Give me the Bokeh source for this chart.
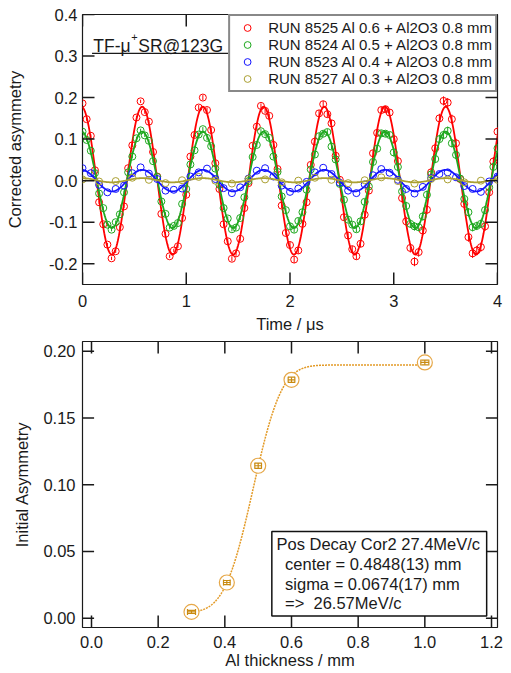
import math
import numpy as np
from bokeh.plotting import figure
from bokeh.models import (FixedTicker, Legend, LegendItem, Label,
                          BoxAnnotation, Whisker, TeeHead, ColumnDataSource, Range1d)
from bokeh.layouts import column
from bokeh.embed import file_html
from bokeh.resources import INLINE

# ---------------- data: top panel (TF-muSR time spectra) ----------------
t_bins = [0.00,0.04,0.08,0.12,0.16,0.20,0.24,0.28,0.32,0.36,0.40,0.44,0.48,0.52,0.56,0.60,
          0.64,0.68,0.72,0.76,0.80,0.84,0.88,0.92,0.96,1.00,1.04,1.08,1.12,1.16,1.20,1.24,
          1.28,1.32,1.36,1.40,1.44,1.48,1.52,1.56,1.60,1.64,1.68,1.72,1.76,1.80,1.84,1.88,
          1.92,1.96,2.00,2.04,2.08,2.12,2.16,2.20,2.24,2.28,2.32,2.36,2.40,2.44,2.48,2.52,
          2.56,2.60,2.64,2.68,2.72,2.76,2.80,2.84,2.88,2.92,2.96,3.00,3.04,3.08,3.12,3.16,
          3.20,3.24,3.28,3.32,3.36,3.40,3.44,3.48,3.52,3.56,3.60,3.64,3.68,3.72,3.76,3.80,
          3.84,3.88,3.92,3.96,4.00]
red_asym = [0.186,0.148,0.108,0.025,-0.052,-0.105,-0.154,-0.187,-0.170,-0.112,
            -0.062,0.030,0.085,0.152,0.191,0.165,0.142,0.069,0.010,-0.080,
            -0.128,-0.182,-0.168,-0.158,-0.090,-0.034,0.058,0.110,0.176,0.200,
            0.170,0.122,0.042,-0.020,-0.105,-0.146,-0.188,-0.175,-0.140,-0.066,
            -0.006,0.084,0.130,0.180,0.168,0.156,0.086,0.028,-0.060,-0.126,
            -0.155,-0.190,-0.168,-0.104,-0.052,0.038,0.094,0.162,0.184,0.160,
            0.138,0.060,0.002,-0.088,-0.132,-0.165,-0.182,-0.152,-0.082,-0.024,
            0.066,0.115,0.170,0.172,0.164,0.100,0.047,-0.042,-0.098,-0.162,
            -0.195,-0.172,-0.120,-0.070,0.020,0.078,0.150,0.192,0.188,0.148,
            0.090,0.004,-0.056,-0.136,-0.175,-0.168,-0.160,-0.110,-0.028,0.046,
            0.118]
green_asym = [0.118,0.098,0.072,0.018,-0.031,-0.066,-0.106,-0.118,-0.100,-0.081,
              -0.028,0.020,0.058,0.102,0.121,0.109,0.096,0.047,0.009,-0.050,
              -0.080,-0.113,-0.109,-0.102,-0.056,-0.020,0.039,0.073,0.111,0.124,
              0.103,0.083,0.029,-0.010,-0.066,-0.091,-0.117,-0.113,-0.090,-0.040,
              -0.001,0.057,0.086,0.119,0.112,0.103,0.058,0.021,-0.038,-0.071,
              -0.110,-0.118,-0.097,-0.076,-0.022,0.027,0.063,0.107,0.113,0.117,
              0.082,0.051,-0.008,-0.046,-0.094,-0.106,-0.117,-0.098,-0.051,-0.014,
              0.045,0.077,0.114,0.113,0.110,0.068,0.033,-0.026,-0.061,-0.104,
              -0.110,-0.112,-0.086,-0.034,0.015,0.052,0.100,0.110,0.120,0.090,
              0.062,0.005,-0.044,-0.076,-0.112,-0.109,-0.104,-0.071,-0.016,0.033,
              0.078]
t_blue = [0.00,0.08,0.16,0.24,0.32,0.40,0.48,0.56,0.64,0.72,0.80,0.88,0.96,1.04,1.12,1.20,
          1.28,1.36,1.44,1.52,1.60,1.68,1.76,1.84,1.92,2.00,2.08,2.16,2.24,2.32,2.40,2.48,
          2.56,2.64,2.72,2.80,2.88,2.96,3.04,3.12,3.20,3.28,3.36,3.44,3.52,3.60,3.68,3.76,
          3.84,3.92,4.00]
blue_asym = [0.030,0.018,-0.010,-0.028,-0.020,-0.012,0.018,0.032,0.017,0.004,
             -0.024,-0.022,-0.019,0.010,0.020,0.029,0.004,-0.018,-0.030,-0.016,
             0.005,0.024,0.030,0.010,-0.012,-0.027,-0.019,-0.003,0.020,0.031,
             0.016,-0.005,-0.024,-0.030,-0.009,0.013,0.028,0.019,0.002,-0.020,
             -0.031,-0.015,0.006,0.016,0.020,0.008,-0.013,-0.020,-0.027,-0.002,
             0.010]
t_yellow = [0.00,0.16,0.32,0.48,0.64,0.80,0.96,1.12,1.28,1.44,1.60,1.76,1.92,2.08,2.24,2.40,
            2.56,2.72,2.88,3.04,3.20,3.36,3.52,3.68,3.84,4.00]
yellow_asym = [0.003,-0.002,-0.001,0.007,0.002,-0.006,0.001,0.009,0.000,-0.007,
               0.004,0.003,-0.004,0.000,0.007,0.002,-0.006,0.001,0.008,-0.001,
               -0.007,0.004,0.003,-0.004,0.000,0.002]
red_err_by_us = [0.004, 0.006, 0.008, 0.011]
green_err_by_us = [0.004, 0.005, 0.007, 0.010]

run_labels = ["RUN 8525 Al 0.6 + Al2O3 0.8 mm",
              "RUN 8524 Al 0.5 + Al2O3 0.8 mm",
              "RUN 8523 Al 0.4 + Al2O3 0.8 mm",
              "RUN 8527 Al 0.3 + Al2O3 0.8 mm"]
run_colors = ["#FF0000", "#1EA81E", "#1414FF", "#ABA032"]
fit_amp = [0.178, 0.116, 0.026, 0.005]
fit_offset = [0.0, 0.002, 0.0, 0.001]
fit_freq_mhz = 1.709
fit_t0 = -0.010

top_x_range = (0.0, 4.0)
top_y_range = (-0.25, 0.4)
top_x_ticks = [0, 1, 2, 3, 4]
top_x_labels = ["0", "1", "2", "3", "4"]
top_y_ticks = [-0.2, -0.1, 0.0, 0.1, 0.2, 0.3, 0.4]
top_y_labels = ["-0.2", "-0.1", "0.0", "0.1", "0.2", "0.3", "0.4"]

# ---------------- data: bottom panel (initial asymmetry vs Al thickness) ----------------
al_thickness = [0.3, 0.406, 0.5, 0.6, 1.0]
init_asym = [0.0047, 0.0267, 0.1142, 0.1786, 0.1916]
thick_err = [0.012, 0.010, 0.010, 0.010, 0.012]
asym_err = [0.0012, 0.0015, 0.0020, 0.0020, 0.0018]
erf_center, erf_sigma, erf_amp, erf_base = 0.4848, 0.0674, 0.1857, 0.004
box_lines = ["Pos Decay Cor2 27.4MeV/c", "center = 0.4848(13) mm",
             "sigma = 0.0674(17) mm", "=>\u00a0 26.57MeV/c"]

bot_x_range = (-0.027, 1.218)
bot_y_range = (-0.007, 0.2073)
bot_x_ticks = [0.0, 0.2, 0.4, 0.6, 0.8, 1.0, 1.2]
bot_x_labels = ["0.0", "0.2", "0.4", "0.6", "0.8", "1.0", "1.2"]
bot_y_ticks = [0.0, 0.05, 0.10, 0.15, 0.20]
bot_y_labels = ["0.00", "0.05", "0.10", "0.15", "0.20"]

FONT = "Liberation Sans"
INK = "#1a1a1a"
TICK_FS = "16.5px"
LABEL_FS = "16.5px"
TICK_LEN = 12


def style_axis(ax, ticks, labels, standoff):
    ax.ticker = FixedTicker(ticks=ticks)
    ax.major_label_overrides = {t: l for t, l in zip(ticks, labels)}
    ax.major_tick_in = 0
    ax.major_tick_out = 0
    ax.major_tick_line_color = None
    ax.minor_tick_line_color = None
    ax.axis_line_color = None
    ax.major_label_text_font = FONT
    ax.major_label_text_color = INK
    ax.major_label_text_font_size = TICK_FS
    ax.major_label_standoff = standoff
    ax.axis_label_text_font = FONT
    ax.axis_label_text_font_style = "normal"
    ax.axis_label_text_font_size = LABEL_FS
    ax.axis_label_text_color = INK


def add_inner_ticks(p, xticks, yticks, xr, yr, frame_w, frame_h):
    """Igor-style inward ticks on all four sides of the frame."""
    dx = TICK_LEN / frame_w * (xr[1] - xr[0])
    dy = TICK_LEN / frame_h * (yr[1] - yr[0])
    x0, y0, x1, y1 = [], [], [], []
    for t in xticks:
        x0 += [float(t), float(t)]
        x1 += [float(t), float(t)]
        y0 += [yr[0], yr[1]]
        y1 += [yr[0] + dy, yr[1] - dy]
    for t in yticks:
        y0 += [float(t), float(t)]
        y1 += [float(t), float(t)]
        x0 += [xr[0], xr[1]]
        x1 += [xr[0] + dx, xr[1] - dx]
    src = ColumnDataSource(dict(x0=x0, y0=y0, x1=x1, y1=y1))
    p.segment(x0="x0", y0="y0", x1="x1", y1="y1", source=src,
              line_color=INK, line_width=1.5)


# ================= top figure =================
W1, H1 = 511, 336
L1, T1, R1, B1 = 82, 14, 14, 52
p1 = figure(width=W1, height=H1, x_range=Range1d(*top_x_range), y_range=Range1d(*top_y_range),
            output_backend="svg", toolbar_location=None,
            min_border_left=L1, min_border_right=R1, min_border_top=T1, min_border_bottom=B1)
p1.grid.visible = False
p1.outline_line_color = INK
p1.outline_line_width = 1.2
p1.background_fill_color = "white"
p1.border_fill_color = "white"

style_axis(p1.xaxis[0], top_x_ticks, top_x_labels, standoff=10)
p1.xaxis[0].axis_label = "Time / \u03bcs"
p1.xaxis[0].axis_label_standoff = 5
style_axis(p1.yaxis[0], top_y_ticks, top_y_labels, standoff=5)
p1.yaxis[0].axis_label = "Corrected asymmetry"
p1.yaxis[0].axis_label_standoff = 22


def err_for(ts, table):
    return [table[min(int(t), len(table) - 1)] for t in ts]


series = [(t_bins, red_asym, err_for(t_bins, red_err_by_us)),
          (t_bins, green_asym, err_for(t_bins, green_err_by_us)),
          (t_blue, blue_asym, None),
          (t_yellow, yellow_asym, None)]

t_fit = np.linspace(top_x_range[0], top_x_range[1], 801)
legend_items = []
for i, (ts, ys, es) in enumerate(series):
    col = run_colors[i]
    if es is not None:
        src_e = ColumnDataSource(dict(t=ts, lo=[y - e for y, e in zip(ys, es)],
                                      hi=[y + e for y, e in zip(ys, es)]))
        p1.segment(x0="t", y0="lo", x1="t", y1="hi", source=src_e, line_color=col, line_width=1)
    r = p1.scatter(ts, ys, marker="circle", size=7, line_color=col, fill_color=None, line_width=1)
    y_fit = fit_amp[i] * np.cos(2 * np.pi * fit_freq_mhz * (t_fit - fit_t0)) + fit_offset[i]
    p1.line(t_fit, y_fit, line_color=col, line_width=1.8)
    legend_items.append(LegendItem(label=run_labels[i], renderers=[r]))

add_inner_ticks(p1, top_x_ticks, top_y_ticks, top_x_range, top_y_range,
                W1 - L1 - R1, H1 - T1 - B1)

legend = Legend(items=legend_items, location="top_right", margin=0, padding=3, spacing=0,
                glyph_width=28, glyph_height=17, label_height=17, label_standoff=7,
                label_text_font=FONT, label_text_font_size="15px", label_text_color=INK,
                border_line_color="#111111", border_line_width=2,
                background_fill_color="white", background_fill_alpha=1.0)
p1.add_layout(legend)

# title box "TF-mu+SR@123G"
p1.add_layout(Label(x=0.104, y=0.324, text="TF-\u03bc", text_font=FONT, text_font_size="17.5px",
                    text_color=INK, text_baseline="alphabetic"))
p1.add_layout(Label(x=0.104, y=0.347, x_offset=38, text="+", text_font=FONT,
                    text_font_size="11px", text_color=INK, text_baseline="alphabetic"))
p1.add_layout(Label(x=0.104, y=0.324, x_offset=45, text="SR@123G", text_font=FONT,
                    text_font_size="17.5px", text_color=INK, text_baseline="alphabetic"))
p1.segment(x0=[0.092], y0=[0.3066], x1=[1.405], y1=[0.3066], line_color=INK, line_width=1.2)

# ================= bottom figure =================
W2, H2 = 511, 337
L2, T2, R2, B2 = 78, 5, 3, 46
p2 = figure(width=W2, height=H2, x_range=Range1d(*bot_x_range), y_range=Range1d(*bot_y_range),
            output_backend="svg", toolbar_location=None,
            min_border_left=L2, min_border_right=R2, min_border_top=T2, min_border_bottom=B2)
p2.grid.visible = False
p2.outline_line_color = INK
p2.outline_line_width = 1.2
p2.background_fill_color = "white"
p2.border_fill_color = "white"

style_axis(p2.xaxis[0], bot_x_ticks, bot_x_labels, standoff=8)
p2.xaxis[0].axis_label = "Al thickness / mm"
p2.xaxis[0].axis_label_standoff = 0
style_axis(p2.yaxis[0], bot_y_ticks, bot_y_labels, standoff=7)
p2.yaxis[0].axis_label = "Initial Asymmetry"
p2.yaxis[0].axis_label_standoff = 9

x_curve = np.linspace(al_thickness[0], al_thickness[-1], 400)
y_curve = [erf_base + 0.5 * erf_amp * (1 + math.erf((x - erf_center) / (erf_sigma * math.sqrt(2))))
           for x in x_curve]
p2.line(x_curve, y_curve, line_color="#E39A26", line_width=1.5, line_dash="2 1")

src_b = ColumnDataSource(dict(x=al_thickness, y=init_asym,
                              xl=[x - e for x, e in zip(al_thickness, thick_err)],
                              xu=[x + e for x, e in zip(al_thickness, thick_err)],
                              yl=[y - e for y, e in zip(init_asym, asym_err)],
                              yu=[y + e for y, e in zip(init_asym, asym_err)]))
p2.scatter("x", "y", source=src_b, marker="circle", size=15, line_color="#E6A849",
           fill_color="white", line_width=1.2)
BAR = "#C98A10"
p2.add_layout(Whisker(source=src_b, base="y", lower="xl", upper="xu", dimension="width",
                      level="overlay", line_color=BAR, line_width=1.2,
                      lower_head=TeeHead(size=6, line_color=BAR, line_width=1.2),
                      upper_head=TeeHead(size=6, line_color=BAR, line_width=1.2)))
p2.add_layout(Whisker(source=src_b, base="x", lower="yl", upper="yu", dimension="height",
                      level="overlay", line_color=BAR, line_width=1.2,
                      lower_head=TeeHead(size=7, line_color=BAR, line_width=1.2),
                      upper_head=TeeHead(size=7, line_color=BAR, line_width=1.2)))

add_inner_ticks(p2, bot_x_ticks, bot_y_ticks, bot_x_range, bot_y_range,
                W2 - L2 - R2, H2 - T2 - B2)

p2.add_layout(BoxAnnotation(left=0.541, right=1.1855, top=0.0649, bottom=0.0017,
                            fill_color="white", fill_alpha=1.0, line_color="#111111",
                            line_width=1.5, line_alpha=1.0))
box_x = [0.555, 0.5806, 0.5806, 0.5806]
box_y = [0.0557, 0.0407, 0.0257, 0.0117]
for txt, bx, by in zip(box_lines, box_x, box_y):
    p2.add_layout(Label(x=bx, y=by, text=txt, text_font=FONT, text_font_size="16.5px",
                        text_color=INK, text_baseline="middle"))

layout = column(p1, p2)
open("out.html", "w").write(file_html(layout, INLINE, title="chart"))
